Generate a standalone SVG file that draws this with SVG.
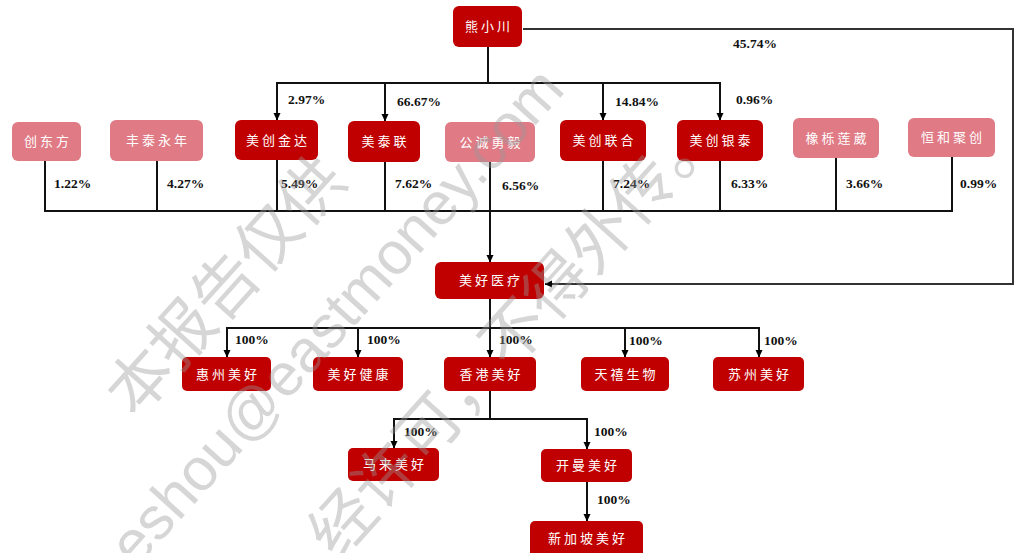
<svg xmlns="http://www.w3.org/2000/svg" width="1021" height="553" viewBox="0 0 1021 553">
<defs>
<marker id="ah" markerWidth="8" markerHeight="8" refX="7" refY="4" orient="auto" markerUnits="userSpaceOnUse">
<path d="M0,0.5 L7.5,4 L0,7.5 Z" fill="#000"/>
</marker>
<style>
.red{fill:#c00000}
.pink{fill:#e07a85}
.nt{font-family:"Noto Sans CJK SC","Noto Sans CJK JP",sans-serif;font-size:13px;fill:#fff;text-anchor:middle;letter-spacing:3px}
.pct{font-family:"Liberation Serif",serif;font-size:13.5px;font-weight:bold;fill:#111}
.ln{fill:none;stroke:#111;stroke-width:2}
.arr{fill:none;stroke:#111;stroke-width:2;marker-end:url(#ah)}
.wm{font-size:64px;fill:#9a9a9a;opacity:0.4}
</style>
</defs>
<rect width="1021" height="553" fill="#fff"/>
<g id="connectors">
<polyline class="ln" points="523,29 1013,29 1013,284 553,284" style="stroke:#333"/>
<line class="arr" x1="553" y1="284" x2="545" y2="284" style="stroke:#333"/>
<line class="ln" x1="488" y1="47" x2="488" y2="83"/>
<line class="ln" x1="276" y1="83" x2="721" y2="83"/>
<line class="arr" x1="277" y1="83" x2="277" y2="120"/>
<line class="arr" x1="385" y1="83" x2="385" y2="121"/>
<line class="arr" x1="603" y1="83" x2="603" y2="120"/>
<line class="arr" x1="720" y1="83" x2="720" y2="120"/>
<line class="ln" x1="45" y1="161" x2="45" y2="211"/>
<line class="ln" x1="157" y1="161" x2="157" y2="211"/>
<line class="ln" x1="277" y1="160" x2="277" y2="211"/>
<line class="ln" x1="385" y1="162" x2="385" y2="211"/>
<line class="ln" x1="603" y1="161" x2="603" y2="211"/>
<line class="ln" x1="720" y1="161" x2="720" y2="211"/>
<line class="ln" x1="836" y1="158" x2="836" y2="211"/>
<line class="ln" x1="952" y1="157" x2="952" y2="211"/>
<line class="ln" x1="44" y1="211" x2="953" y2="211"/>
<line class="arr" x1="490" y1="162" x2="490" y2="262"/>
<line class="ln" x1="490" y1="299" x2="490" y2="328"/>
<line class="ln" x1="226" y1="328" x2="760" y2="328"/>
<line class="arr" x1="227" y1="328" x2="227" y2="357"/>
<line class="arr" x1="358" y1="328" x2="358" y2="357"/>
<line class="arr" x1="490" y1="328" x2="490" y2="357"/>
<line class="arr" x1="625" y1="328" x2="625" y2="357"/>
<line class="arr" x1="759" y1="328" x2="759" y2="357"/>
<line class="ln" x1="490" y1="391" x2="490" y2="419"/>
<line class="ln" x1="393" y1="419" x2="588" y2="419"/>
<line class="arr" x1="394" y1="419" x2="394" y2="448"/>
<line class="arr" x1="587" y1="419" x2="587" y2="449"/>
<line class="arr" x1="587" y1="482" x2="587" y2="521"/>
</g>
<g id="labels">
<text class="pct" x="733" y="48">45.74%</text>
<text class="pct" x="288" y="104">2.97%</text>
<text class="pct" x="397" y="106">66.67%</text>
<text class="pct" x="615" y="106">14.84%</text>
<text class="pct" x="736" y="104">0.96%</text>
<text class="pct" x="54" y="188">1.22%</text>
<text class="pct" x="167" y="188">4.27%</text>
<text class="pct" x="281" y="188">5.49%</text>
<text class="pct" x="395" y="188">7.62%</text>
<text class="pct" x="502" y="190">6.56%</text>
<text class="pct" x="613" y="188">7.24%</text>
<text class="pct" x="731" y="188">6.33%</text>
<text class="pct" x="846" y="188">3.66%</text>
<text class="pct" x="960" y="188">0.99%</text>
<text class="pct" x="235" y="344">100%</text>
<text class="pct" x="367" y="344">100%</text>
<text class="pct" x="499" y="344">100%</text>
<text class="pct" x="629" y="345">100%</text>
<text class="pct" x="764" y="345">100%</text>
<text class="pct" x="404" y="436">100%</text>
<text class="pct" x="594" y="436">100%</text>
<text class="pct" x="597" y="504">100%</text>
</g>
<g id="n-xiongxiaochuan"><rect class="red" x="453" y="6" width="69" height="41" rx="6"/><text class="nt" x="489" y="31">熊小川</text></g>
<g id="n-chuangdongfang"><rect class="pink" x="12" y="122" width="69" height="39" rx="6"/><text class="nt" x="48" y="146">创东方</text></g>
<g id="n-fengtaiyongnian"><rect class="pink" x="110" y="120" width="93" height="41" rx="6"/><text class="nt" x="158" y="145">丰泰永年</text></g>
<g id="n-meichuangjinda"><rect class="red" x="235" y="120" width="83" height="40" rx="6"/><text class="nt" x="278" y="145">美创金达</text></g>
<g id="n-meitailian"><rect class="red" x="348" y="121" width="72" height="41" rx="6"/><text class="nt" x="385.5" y="146">美泰联</text></g>
<g id="n-gongchengyongyi"><rect class="pink" x="445" y="122" width="90" height="40" rx="6"/><text class="nt" x="491.5" y="147">公诚勇毅</text></g>
<g id="n-meichuanglianhe"><rect class="red" x="560" y="120" width="86" height="41" rx="6"/><text class="nt" x="604.5" y="145">美创联合</text></g>
<g id="n-meichuangyintai"><rect class="red" x="677" y="120" width="86" height="41" rx="6"/><text class="nt" x="721.5" y="145">美创银泰</text></g>
<g id="n-xiangliliwei"><rect class="pink" x="793" y="118" width="86" height="40" rx="6"/><text class="nt" x="837.5" y="143">橡栎莲葳</text></g>
<g id="n-henghejuchuang"><rect class="pink" x="908" y="118" width="87" height="39" rx="6"/><text class="nt" x="953" y="142">恒和聚创</text></g>
<g id="n-meihaoyiliao"><rect class="red" x="435" y="262" width="109" height="37" rx="6"/><text class="nt" x="491" y="285">美好医疗</text></g>
<g id="n-huizhou"><rect class="red" x="182" y="357" width="89" height="34" rx="5"/><text class="nt" x="228" y="378.5">惠州美好</text></g>
<g id="n-jiankang"><rect class="red" x="313" y="357" width="90" height="34" rx="5"/><text class="nt" x="359.5" y="378.5">美好健康</text></g>
<g id="n-xianggang"><rect class="red" x="444" y="357" width="92" height="34" rx="5"/><text class="nt" x="491.5" y="378.5">香港美好</text></g>
<g id="n-tianxi"><rect class="red" x="581" y="357" width="88" height="34" rx="5"/><text class="nt" x="626.5" y="378.5">天禧生物</text></g>
<g id="n-suzhou"><rect class="red" x="713" y="357" width="91" height="34" rx="5"/><text class="nt" x="760" y="378.5">苏州美好</text></g>
<g id="n-malai"><rect class="red" x="348" y="448" width="91" height="33" rx="5"/><text class="nt" x="395" y="469">马来美好</text></g>
<g id="n-kaiman"><rect class="red" x="541" y="449" width="91" height="33" rx="5"/><text class="nt" x="588" y="470">开曼美好</text></g>
<g id="n-xinjiapo"><rect class="red" x="530" y="521" width="113" height="36" rx="5"/><text class="nt" x="588" y="542.5">新加坡美好</text></g>
<g id="watermark">
<text class="wm" transform="translate(135,420) rotate(-48)" style="font-family:'Noto Sans CJK SC',sans-serif">本报告仅供</text>
<text class="wm" transform="translate(136,569) rotate(-48)" style="font-family:'Liberation Sans',sans-serif;font-size:60px">eshou@eastmoney.com</text>
<text class="wm" transform="translate(338,562) rotate(-48)" style="font-family:'Noto Sans CJK SC',sans-serif">经许可，不得外传。</text>
</g>
</svg>
